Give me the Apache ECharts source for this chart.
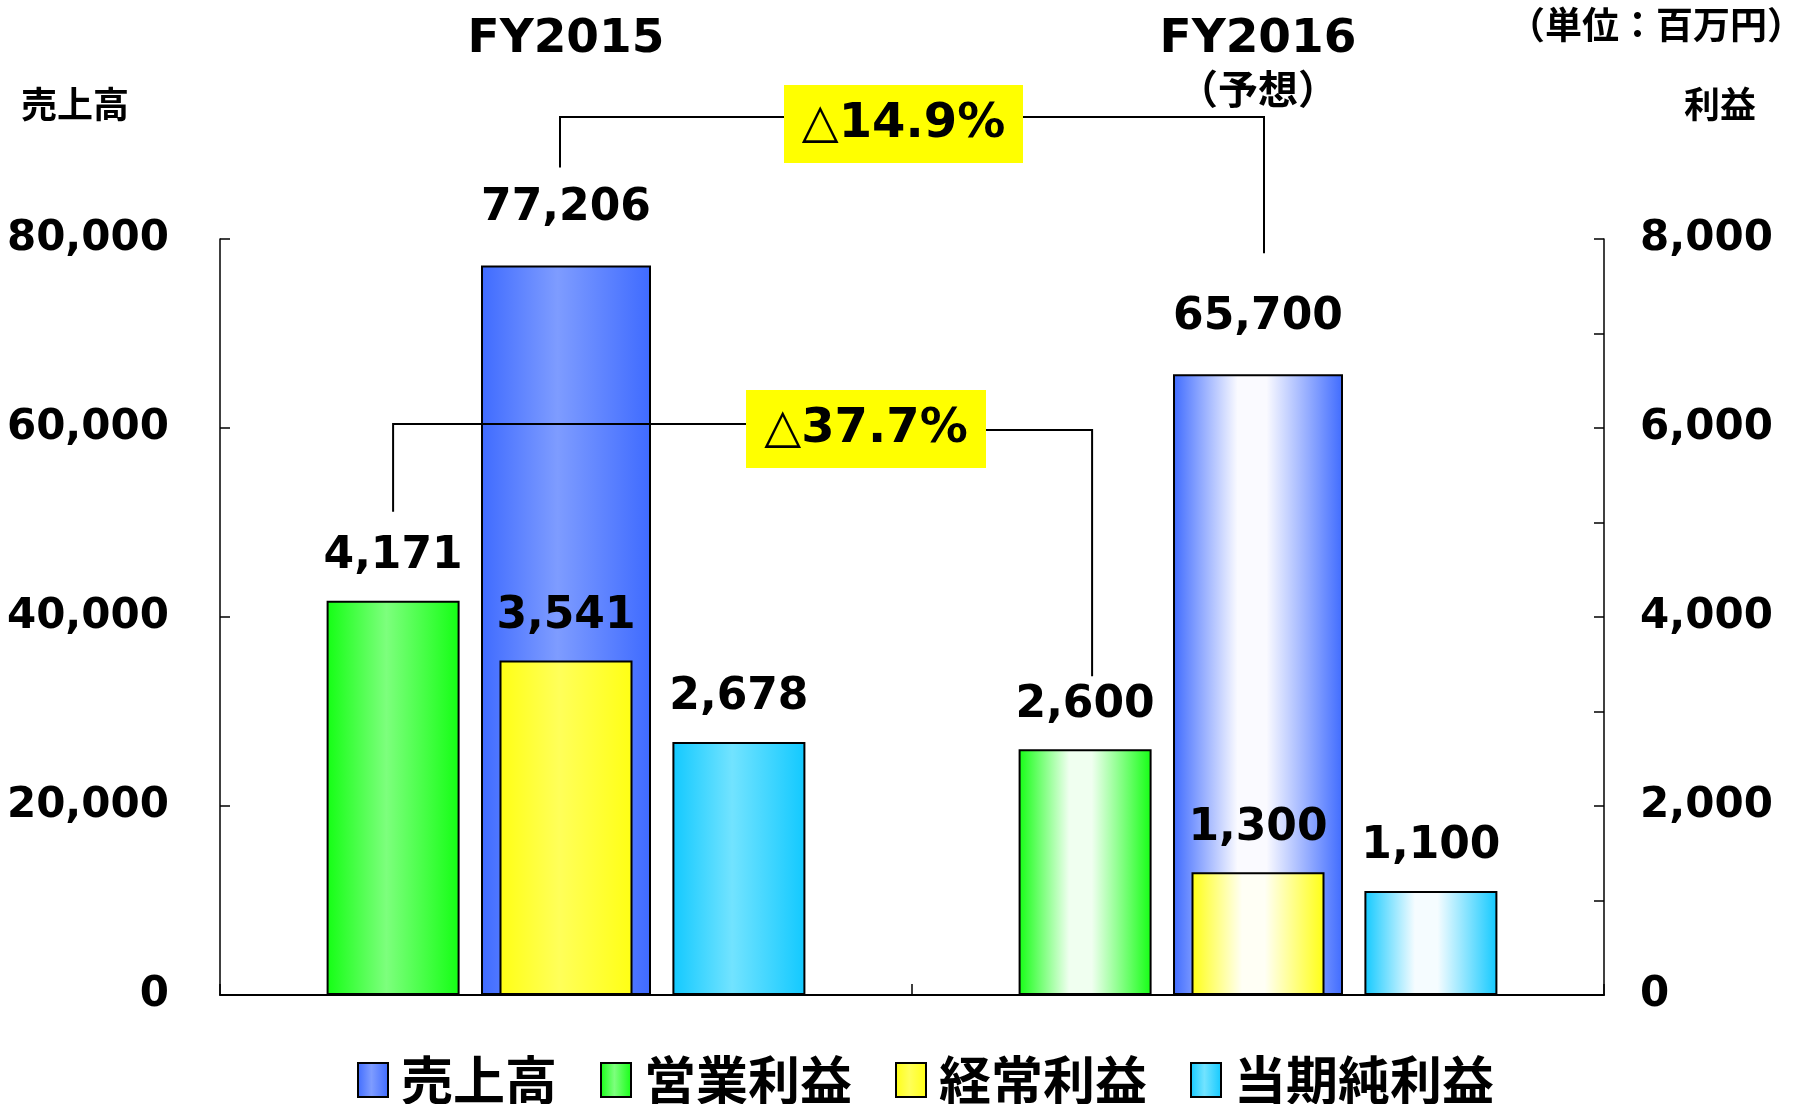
<!DOCTYPE html>
<html>
<head>
<meta charset="utf-8">
<script src="https://cdn.jsdelivr.net/npm/echarts@6/dist/echarts.min.js"></script>
<style>
  html, body { margin: 0; padding: 0; background: #fff; }
  #main { width: 1800px; height: 1104px; }
</style>
</head>
<body>
<div id="main"></div>
<script>
// data (単位：百万円)
const years = ['FY2015', 'FY2016']
const yearNotes = ['', '（予想）']
const seriesNames = ['売上高', '営業利益', '経常利益', '当期純利益']
const sales = [77206, 65700]
const operatingProfit = [4171, 2600]
const ordinaryProfit = [3541, 1300]
const netProfit = [2678, 1100]
const changeLabels = ['△14.9%', '△37.7%']

const NUM_FONT = '"DejaVu Sans", Verdana, sans-serif'
const JP_FONT = '"Noto Sans CJK JP", "Noto Sans", sans-serif'

// actual year: coloured edges, lighter centre. forecast: fades to white
const palette = [
  { edge: '#3F6BFF', mid: '#7E9CFF', fade: '#FAFAFF' },
  { edge: '#14FF14', mid: '#7DFF7D', fade: '#F0FFF0' },
  { edge: '#FFFF14', mid: '#FFFF5A', fade: '#FFFFF5' },
  { edge: '#12C9FF', mid: '#72E3FF', fade: '#F5FCFF' }
]
const solidGrad = p => new echarts.graphic.LinearGradient(0, 0, 1, 0, [
  { offset: 0, color: p.edge }, { offset: 0.45, color: p.mid }, { offset: 1, color: p.edge }
])
const fadeGrad = p => new echarts.graphic.LinearGradient(0, 0, 1, 0, [
  { offset: 0, color: p.edge }, { offset: 0.38, color: p.fade }, { offset: 0.55, color: p.fade }, { offset: 1, color: p.edge }
])

const fmt = v => Number(v).toLocaleString('en-US')

const labelStyle = (distance) => ({
  show: true,
  position: 'top',
  distance: distance,
  color: '#000',
  fontSize: 44,
  fontWeight: 'bold',
  fontFamily: NUM_FONT,
  formatter: p => fmt(p.value)
})

function makeSeries(idx, values, extra) {
  return Object.assign({
    name: seriesNames[idx],
    type: 'bar',
    itemStyle: { color: solidGrad(palette[idx]), borderColor: '#000', borderWidth: 2 },
    data: values.map((v, i) => i === 1
      ? { value: v, itemStyle: { color: fadeGrad(palette[idx]) } }
      : { value: v })
  }, extra)
}

const chart = echarts.init(document.getElementById('main'))

const option = {
  backgroundColor: '#fff',
  animation: false,
  grid: { left: 220, right: 196, top: 239, bottom: 109 },
  legend: {
    left: 352,
    top: 1049,
    icon: 'rect',
    itemWidth: 30,
    itemHeight: 34,
    itemGap: 43,
    itemStyle: { borderColor: '#000', borderWidth: 2 },
    textStyle: { fontSize: 52, fontWeight: 'bold', fontFamily: JP_FONT, color: '#000', padding: [0, 0, 0, 8] },
    data: seriesNames
  },
  xAxis: [
    {
      type: 'category',
      data: years,
      position: 'bottom',
      axisLine: { lineStyle: { color: '#000', width: 2 } },
      axisTick: { show: true, inside: true, length: 11, lineStyle: { color: '#000', width: 1.5 } },
      axisLabel: { show: false }
    },
    {
      // same categories, used for the sales bars and the year headers on top
      type: 'category',
      data: years,
      position: 'top',
      axisLine: { show: false },
      axisTick: { show: false },
      axisLabel: {
        margin: 226,
        verticalAlign: 'top',
        formatter: (v, i) => yearNotes[i] ? `{y|${v}}\n{n|${yearNotes[i]}}` : `{y|${v}}`,
        rich: {
          y: { fontSize: 47, fontWeight: 'bold', fontFamily: NUM_FONT, color: '#000', lineHeight: 54 },
          n: { fontSize: 40, fontWeight: 'bold', fontFamily: JP_FONT, color: '#000', lineHeight: 44 }
        }
      }
    }
  ],
  yAxis: [
    {
      type: 'value',
      min: 0,
      max: 80000,
      interval: 20000,
      axisLine: { show: true, lineStyle: { color: '#000', width: 1.5 } },
      axisTick: { show: true, inside: true, length: 10, lineStyle: { color: '#000', width: 1.5 } },
      splitLine: { show: false },
      axisLabel: { margin: 51, color: '#000', fontSize: 42, fontWeight: 'bold', fontFamily: NUM_FONT, formatter: fmt }
    },
    {
      type: 'value',
      position: 'right',
      min: 0,
      max: 8000,
      interval: 1000,
      axisLine: { show: true, lineStyle: { color: '#000', width: 1.5 } },
      axisTick: { show: true, inside: true, length: 10, lineStyle: { color: '#000', width: 1.5 } },
      splitLine: { show: false },
      axisLabel: {
        margin: 36, color: '#000', fontSize: 42, fontWeight: 'bold', fontFamily: NUM_FONT,
        formatter: v => (v % 2000 === 0 ? fmt(v) : '')
      }
    }
  ],
  series: [
    makeSeries(0, sales, { xAxisIndex: 1, yAxisIndex: 0, barWidth: 170, z: 2, label: labelStyle(35) }),
    makeSeries(1, operatingProfit, { xAxisIndex: 0, yAxisIndex: 1, barWidth: 133, barGap: '30%', z: 3, label: labelStyle(22) }),
    makeSeries(2, ordinaryProfit, { xAxisIndex: 0, yAxisIndex: 1, barWidth: 133, barGap: '30%', z: 3, label: labelStyle(22) }),
    makeSeries(3, netProfit, { xAxisIndex: 0, yAxisIndex: 1, barWidth: 133, barGap: '30%', z: 3, label: labelStyle(22) })
  ],
  graphic: [
    { type: 'text', x: 75, y: 104, style: { text: '売上高', fontSize: 36, fontWeight: 'bold', fontFamily: JP_FONT, fill: '#000', align: 'center', verticalAlign: 'middle' } },
    { type: 'text', x: 1720, y: 104, style: { text: '利益', fontSize: 36, fontWeight: 'bold', fontFamily: JP_FONT, fill: '#000', align: 'center', verticalAlign: 'middle' } },
    { type: 'text', x: 1804, y: 25, style: { text: '（単位：百万円）', fontSize: 37, fontWeight: 'bold', fontFamily: JP_FONT, fill: '#000', align: 'right', verticalAlign: 'middle' } }
  ]
}

chart.setOption(option)

// bracket annotations between the two years, anchored to the bar layouts
function barTop(seriesIndex, dataIndex) {
  const l = chart.getModel().getSeriesByIndex(seriesIndex).getData().getItemLayout(dataIndex)
  return { x: l.x + l.width / 2, y: Math.min(l.y, l.y + l.height) }
}

const brackets = [
  { series: 0, text: changeLabels[0], upFrom: 98, upTo: 121, shiftL: -6, shiftR: 6, lineYL: 117, lineYR: 117, box: [784, 85, 239, 78] },
  { series: 1, text: changeLabels[1], upFrom: 89, upTo: 73, shiftL: 0, shiftR: 7, lineYL: 424, lineYR: 430, box: [746, 390, 240, 78] }
]

const extra = []
brackets.forEach(b => {
  const a = barTop(b.series, 0)
  const c = barTop(b.series, 1)
  const xa = a.x + b.shiftL
  const xc = c.x + b.shiftR
  const [bx, by, bw, bh] = b.box
  extra.push({
    type: 'polyline', z: 10,
    shape: { points: [[xa, a.y - b.upFrom], [xa, b.lineYL], [bx + 2, b.lineYL]] },
    style: { stroke: '#000', lineWidth: 2, fill: null }
  })
  extra.push({
    type: 'polyline', z: 10,
    shape: { points: [[bx + bw - 2, b.lineYR], [xc, b.lineYR], [xc, c.y - b.upTo]] },
    style: { stroke: '#000', lineWidth: 2, fill: null }
  })
  extra.push({ type: 'rect', z: 11, shape: { x: bx, y: by, width: bw, height: bh }, style: { fill: '#FFFF00' } })
  extra.push({
    type: 'text', z: 12, x: bx + bw / 2, y: by + bh / 2 + 1,
    style: { text: b.text, fontSize: 48, fontWeight: 'bold', fontFamily: NUM_FONT, fill: '#000', align: 'center', verticalAlign: 'middle' }
  })
})

chart.setOption({ graphic: option.graphic.concat(extra) })
</script>
</body>
</html>
